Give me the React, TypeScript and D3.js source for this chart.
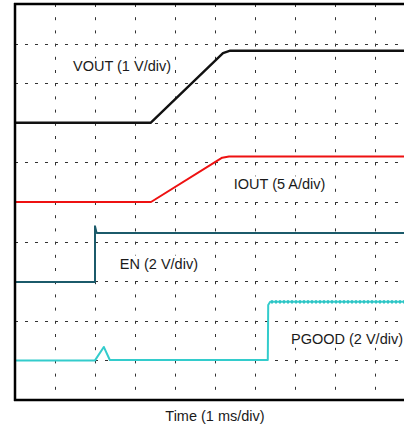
import React from "react";
import * as d3 from "d3";

// Time in ms (1 ms/div), values in vertical divisions (0 = bottom border)
const vout: [number, number][] = [[0, 7.0], [3.39, 7.0], [5.2, 8.76], [5.38, 8.82], [10.5, 8.82]];
const iout: [number, number][] = [[0, 5.0], [3.4, 5.0], [5.18, 6.12], [5.35, 6.15], [10.5, 6.15]];
const en: [number, number][] = [[0, 2.98], [2.0, 2.98], [2.0, 4.39], [2.04, 4.22], [10.5, 4.22]];
const pgood: [number, number][] = [[0, 1.0], [2.0, 1.0], [2.22, 1.34], [2.37, 1.01], [6.32, 1.01], [6.33, 2.4], [6.38, 2.48], [10.5, 2.48]];
const pgoodHigh: [number, number][] = [[6.4, 2.48], [10.5, 2.48]];

const xDivs = d3.range(0, 11);
const yDivs = d3.range(0, 11);

const labels = [
  { text: "VOUT (1 V/div)", t: 1.45, v: 8.3 },
  { text: "IOUT (5 A/div)", t: 5.47, v: 5.32 },
  { text: "EN (2 V/div)", t: 2.62, v: 3.32 },
  { text: "PGOOD (2 V/div)", t: 6.9, v: 1.42 },
];
const xTitle = "Time (1 ms/div)";

const W = 404;
const H = 429;
const left = 15;
const top = 4;
const bottom = 400;
const FS = 14.5;
const font = "'Liberation Sans', Arial, Helvetica, sans-serif";

function measure(text: string): number {
  try {
    const c = document.createElement("canvas").getContext("2d");
    if (c) {
      c.font = `${FS}px ${font}`;
      return c.measureText(text).width;
    }
  } catch (e) {}
  return text.length * FS * 0.5;
}

export default function App() {
  const x = d3.scaleLinear().domain([0, 10]).range([left, left + 400]);
  const y = d3.scaleLinear().domain([0, 10]).range([bottom, top]);
  const line = d3.line<[number, number]>().x((d) => x(d[0])).y((d) => y(d[1]));

  return (
    <svg width={W} height={H} style={{ position: "absolute", left: 0, top: 0, background: "#fff" }}>
      <defs>
        <clipPath id="plot">
          <rect x={left} y={top} width={400} height={bottom - top} />
        </clipPath>
      </defs>
      <rect x={0} y={0} width={W} height={H} fill="#fff" />
      {/* grid */}
      <g stroke="#333" strokeWidth={1}>
        {yDivs.slice(1, 10).map((d) => (
          <line key={"h" + d} x1={left} x2={W} y1={Math.round(y(d)) + 0.5} y2={Math.round(y(d)) + 0.5} strokeDasharray="3,7" />
        ))}
        {xDivs.slice(1, 10).map((d) => (
          <line key={"v" + d} x1={Math.round(x(d)) + 0.5} x2={Math.round(x(d)) + 0.5} y1={top} y2={bottom} strokeDasharray="3,10.2" />
        ))}
      </g>
      {/* label backgrounds */}
      <g fill="#fff">
        {labels.map((l) => (
          <rect key={"bg" + l.text} x={x(l.t) - 2} y={y(l.v) - 13} width={measure(l.text) + 4} height={17} />
        ))}
      </g>
      {/* traces */}
      <g clipPath="url(#plot)" fill="none" strokeLinejoin="round">
        <path d={line(vout) ?? ""} stroke="#111" strokeWidth={2.4} />
        <path d={line(iout) ?? ""} stroke="#ee1111" strokeWidth={2} />
        <path d={line(en) ?? ""} stroke="#1b5a6a" strokeWidth={2} />
        <path d={line(pgood) ?? ""} stroke="#33cccc" strokeWidth={2} />
        <path d={line(pgoodHigh) ?? ""} stroke="#2fc4c4" strokeWidth={3.2} strokeDasharray="2,2" />
      </g>
      {/* border */}
      <g stroke="#000" fill="none">
        <line x1={left} x2={left} y1={top - 1} y2={bottom + 1} strokeWidth={2.5} />
        <line x1={left - 1} x2={W} y1={top} y2={top} strokeWidth={2.5} />
        <line x1={left - 1} x2={W} y1={bottom} y2={bottom} strokeWidth={2.5} />
      </g>
      {/* labels */}
      <g fontFamily={font} fontSize={FS} fill="#1a1a1a">
        {labels.map((l) => (
          <text key={l.text} x={x(l.t)} y={y(l.v)}>{l.text}</text>
        ))}
        <text x={x(5)} y={421} textAnchor="middle">{xTitle}</text>
      </g>
    </svg>
  );
}
